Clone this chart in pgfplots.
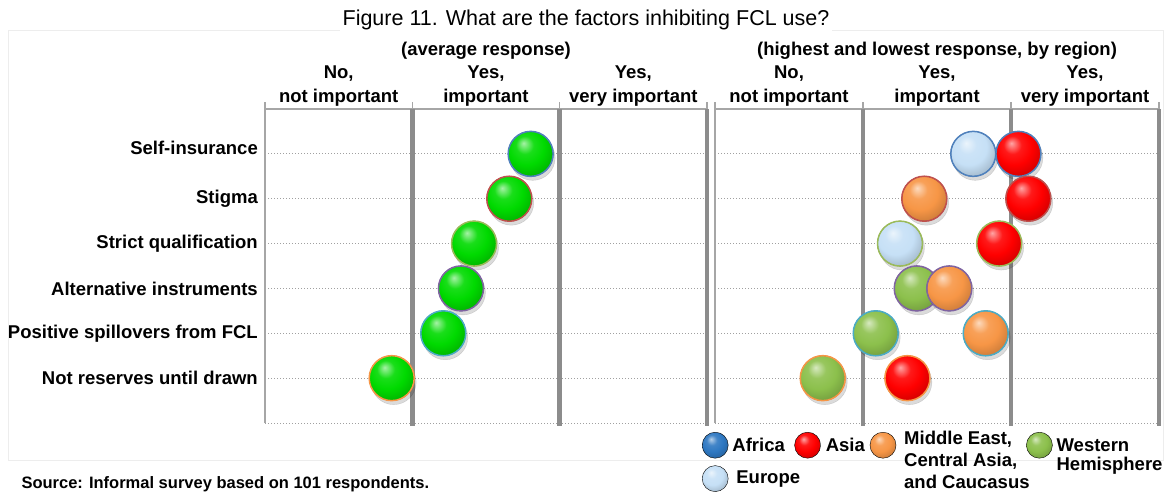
\documentclass[border=0pt]{standalone}
\usepackage{fontspec}
\setmainfont{Liberation Sans}
\usepackage{pgfplots}
\usepackage{pgfplotstable}
\pgfplotsset{compat=1.18}

% glossy bubbles: bright body, soft highlight, darker rim towards the edge
\makeatletter
\pgfdeclareradialshading[tikz@ball]{ball}{\pgfqpoint{-8bp}{12bp}}{%
  color(0bp)=(tikz@ball!35!white);
  color(10bp)=(tikz@ball!90!white);
  color(20bp)=(tikz@ball);
  color(30bp)=(tikz@ball!85!black);
  color(42bp)=(tikz@ball!60!black);
  color(55bp)=(tikz@ball!35!black)}
\makeatother

% frame and grid greys
\definecolor{framegray}{HTML}{A6A6A6}
\definecolor{sepgray}{HTML}{8C8C8C}
\definecolor{gridgray}{HTML}{A0A0A0}
% outline colours, one per factor (rows 1..6)
\definecolor{ringA}{HTML}{F79646}
\definecolor{ringB}{HTML}{4BACC6}
\definecolor{ringC}{HTML}{8064A2}
\definecolor{ringD}{HTML}{9BBB59}
\definecolor{ringE}{HTML}{C0504D}
\definecolor{ringF}{HTML}{4F81BD}
% bubble colours
\definecolor{avggreen}{HTML}{00DA00}
\definecolor{afr}{HTML}{2E78C2}
\definecolor{asia}{HTML}{FF0000}
\definecolor{mecaa}{HTML}{F79646}
\definecolor{whd}{HTML}{8CC04C}
\definecolor{eur}{HTML}{C6E0F6}

\newcommand\titlefont{\fontsize{21.5}{26}\selectfont}
\newcommand\lblfont{\fontsize{18.5}{22}\selectfont\bfseries}
\newcommand\hdrfont{\fontsize{18.5}{24}\selectfont\bfseries}
\newcommand\legfont{\fontsize{18.5}{22}\selectfont\bfseries}
\newcommand\srcfont{\fontsize{16.5}{20}\selectfont\bfseries}

% average response (position 0..3 across the three answer columns; row 1..6)
\pgfplotstableread{
x     y  ring
1.803 6  r6
1.658 5  r5
1.419 4  r4
1.330 3  r3
1.210 2  r2
0.860 1  r1
}\avgtab

% highest and lowest response, by region
\pgfplotstableread{
x     y  ring
1.745 6  r6
1.250 4  r4
}\eurtab
\pgfplotstableread{
x     y  ring
1.363 3  r3
1.086 2  r2
0.728 1  r1
}\whdtab
\pgfplotstableread{
x     y  ring
1.414 5  r5
1.583 3  r3
1.829 2  r2
}\metab
\pgfplotstableread{
x     y  ring
2.050 6  r6
2.117 5  r5
1.920 4  r4
1.300 1  r1
}\asiatab

\pgfplotsset{
  panel/.style={
    scale only axis, height=314pt,
    xmin=0, xmax=3, ymin=0, ymax=7,
    clip=false,
    axis x line*=top, axis y line*=left,
    axis line style={draw=framegray, line width=1.6pt},
    xtick={0.5,1.5,2.5},
    xticklabels={{No,\\not important},{Yes,\\important},{Yes,\\very important}},
    xticklabel style={align=center, font=\hdrfont, inner sep=0pt, yshift=2pt},
    minor xtick={0,1,2,3},
    tick align=outside,
    major tick length=0pt, minor tick length=7pt,
    every tick/.style={draw=framegray, line width=1.6pt},
    ytick={0,1,...,6},
    ymajorgrids,
    major grid style={draw=gridgray, line width=1pt, dash pattern=on 1pt off 2pt},
    yticklabel style={font=\lblfont, inner sep=0pt, xshift=-7pt},
  },
  divider/.style={forget plot, no marks, draw=sepgray, line width=4.5pt},
  shadow/.style={forget plot, only marks, mark=*, mark size=22.5pt,
    mark options={draw=none, fill=black, opacity=0.14, xshift=2pt, yshift=-4pt}},
  bubble/.style={forget plot, only marks, mark=ball, mark size=22.5pt, ball color=#1},
  rings/.style={forget plot, only marks, scatter, scatter src=explicit symbolic,
    mark size=22.5pt,
    scatter/classes={
      r1={mark=o, draw=ringA, line width=1.5pt},
      r2={mark=o, draw=ringB, line width=1.5pt},
      r3={mark=o, draw=ringC, line width=1.5pt},
      r4={mark=o, draw=ringD, line width=1.5pt},
      r5={mark=o, draw=ringE, line width=1.5pt},
      r6={mark=o, draw=ringF, line width=1.5pt}}},
  legball/.style={legend image code/.code={\shade[ball color=#1] (0pt,0pt) circle[radius=13pt];}},
}

\begin{document}
\begin{tikzpicture}[x=1pt,y=1pt]
\path[use as bounding box] (0,0) rectangle (1164,-493);
\draw[black!7, line width=1pt] (8,-30) rectangle (1163,-460);

\node[anchor=base, fill=white, inner sep=3pt, font=\titlefont] at (586,-25)
  {Figure 11. What are the factors inhibiting FCL use?};
\node[anchor=base, font=\lblfont] at (486,-55) {(average response)};
\node[anchor=base, font=\lblfont] at (937,-55) {(highest and lowest response, by region)};

% left panel: average response
\begin{axis}[panel, at={(265pt,-423pt)}, anchor=south west, width=442pt,
  yticklabels={,Not reserves until drawn,Positive spillovers from FCL,
    Alternative instruments,Strict qualification,Stigma,
    \raisebox{6pt}[\height][\depth]{Self-insurance}}]
\addplot[divider] coordinates {(1,-0.06) (1,7)};
\addplot[divider] coordinates {(2,-0.06) (2,7)};
\addplot[divider] coordinates {(3,-0.06) (3,7)};
\addplot[shadow] table {\avgtab};
\addplot[bubble=avggreen] table {\avgtab};
\addplot[rings] table[meta=ring] {\avgtab};
\end{axis}

% right panel: extremes by region
\begin{axis}[panel, at={(715pt,-423pt)}, anchor=south west, width=444pt,
  yticklabels={},
  legend columns=4, legend cell align=left,
  legend style={at={(0,0)}, anchor=north west, xshift=-13pt, yshift=-9pt,
    draw=none, fill=none, inner sep=0pt, outer sep=0pt,
    column sep=0pt, row sep=7pt,
    nodes={inner sep=0pt, text depth={}, font=\legfont}}]
\addplot[divider] coordinates {(1,-0.06) (1,7)};
\addplot[divider] coordinates {(2,-0.06) (2,7)};
\addplot[divider] coordinates {(3,-0.06) (3,7)};
\addplot[shadow] table {\eurtab};
\addplot[bubble=eur] table {\eurtab};
\addplot[rings] table[meta=ring] {\eurtab};
\addplot[shadow] table {\whdtab};
\addplot[bubble=whd] table {\whdtab};
\addplot[rings] table[meta=ring] {\whdtab};
\addplot[shadow] table {\metab};
\addplot[bubble=mecaa] table {\metab};
\addplot[rings] table[meta=ring] {\metab};
\addplot[shadow] table {\asiatab};
\addplot[bubble=asia] table {\asiatab};
\addplot[rings] table[meta=ring] {\asiatab};

\addlegendimage{legball=afr}
\addlegendentry{\makebox[66pt][l]{\hspace{4pt}Africa}}
\addlegendimage{legball=asia}
\addlegendentry{\makebox[49pt][l]{\hspace{5pt}Asia}}
\addlegendimage{legball=mecaa}
\addlegendentry{\makebox[130pt][l]{\hspace{8pt}\raisebox{4pt}[7pt][0pt]{%
  \begin{tabular}[t]{@{}l@{}}Middle East,\\Central Asia,\\and Caucasus\end{tabular}}}}
\addlegendimage{legball=whd}
\addlegendentry{\hspace{4pt}\raisebox{-3pt}[7pt][0pt]{%
  \begin{tabular}[t]{@{}l@{}}Western\\[-3pt]Hemisphere\end{tabular}}}
\addlegendimage{legball=eur}
\addlegendentry{\makebox[66pt][l]{\hspace{8pt}Europe}}
\end{axis}

\node[anchor=base west, font=\srcfont] at (18,-488.5)
  {Source: Informal survey based on 101 respondents.};
\end{tikzpicture}
\end{document}
